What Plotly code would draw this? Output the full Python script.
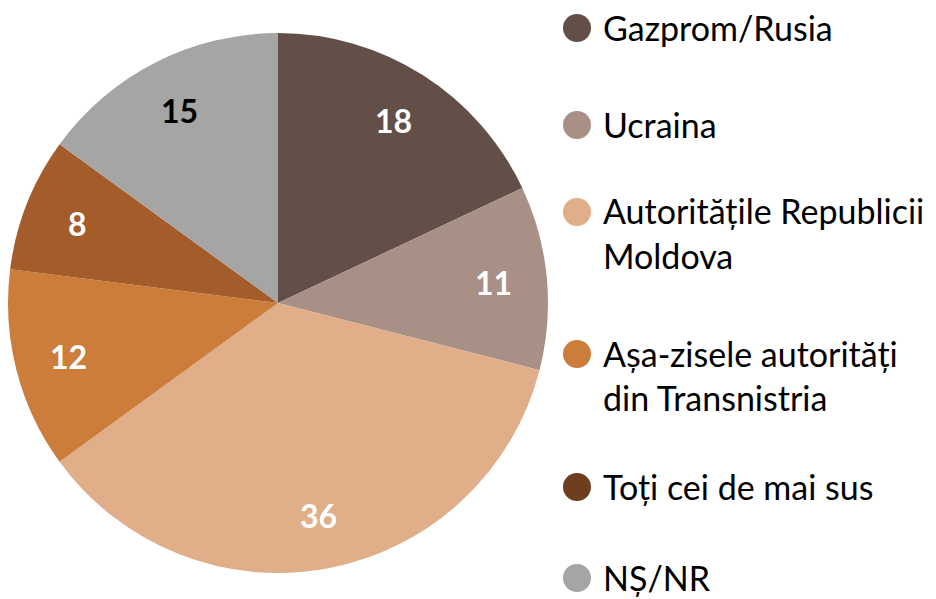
import math
import plotly.graph_objects as go

# Survey shares (percent)
categories = [
    "Gazprom/Rusia",
    "Ucraina",
    "Autoritățile Republicii<br>Moldova",
    "Așa-zisele autorități<br>din Transnistria",
    "Toți cei de mai sus",
    "NȘ/NR",
]
values = [18, 11, 36, 12, 8, 15]
slice_colors = ["#624F47", "#A89086", "#E0AE88", "#CC7D3C", "#A45C2B", "#A5A5A5"]
legend_colors = ["#624F47", "#A89086", "#E0AE88", "#CC7D3C", "#6E3F1E", "#A5A5A5"]
label_colors = ["white", "white", "white", "white", "white", "black"]

W, H = 936, 599
CX, CY, R = 278, 303, 270  # pie centre and radius in pixels

fig = go.Figure(
    go.Pie(
        labels=[c.replace("<br>", " ") for c in categories],
        values=values,
        marker=dict(colors=slice_colors, line=dict(width=0)),
        sort=False,
        direction="clockwise",
        rotation=0,
        textinfo="none",
        hoverinfo="label+value",
        showlegend=False,
        domain=dict(
            x=[(CX - R) / W, (CX + R) / W],
            y=[1 - (CY + R) / H, 1 - (CY - R) / H],
        ),
    )
)

annotations = []
shapes = []

# value labels inside slices, placed at 0.8 of the radius on each slice's mid-angle
total = sum(values)
cum = 0
for v, col in zip(values, label_colors):
    mid = (cum + v / 2) / total * 2 * math.pi
    cum += v
    px = CX + 0.8 * R * math.sin(mid)
    py = CY - 0.8 * R * math.cos(mid)
    annotations.append(dict(
        x=px / W, y=1 - py / H, xref="paper", yref="paper",
        text=f"<b>{v}</b>", showarrow=False,
        font=dict(family="Lato, Carlito, sans-serif", size=32, color=col),
        xanchor="center", yanchor="middle",
    ))

# legend: circle markers and text rows
row_y = [28, 125, 212, 354, 487, 578]
line_gap = 44
for name, col, y0 in zip(categories, legend_colors, row_y):
    shapes.append(dict(
        type="circle", xref="paper", yref="paper",
        x0=563 / W, x1=591 / W,
        y0=1 - (y0 + 14) / H, y1=1 - (y0 - 14) / H,
        fillcolor=col, line=dict(width=0),
    ))
    for i, line in enumerate(name.split("<br>")):
        annotations.append(dict(
            x=601 / W, y=1 - (y0 - 1 + i * line_gap) / H,
            xref="paper", yref="paper",
            text=line, showarrow=False,
            font=dict(family="Lato, Carlito, sans-serif", size=34, color="black"),
            xanchor="left", yanchor="middle",
        ))

fig.update_layout(
    width=W, height=H,
    margin=dict(l=0, r=0, t=0, b=0),
    paper_bgcolor="white",
    plot_bgcolor="white",
    annotations=annotations,
    shapes=shapes,
)

fig.write_html("out.html")
